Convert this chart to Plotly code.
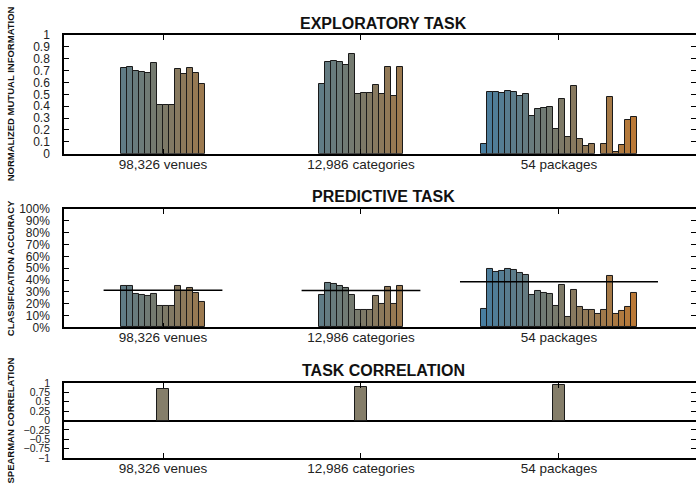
import plotly.graph_objects as go

groups = ["98,326 venues", "12,986 categories", "54 packages"]
n_slots = 26

# Normalized mutual information (exploratory task), one value per slot (0 = no bar)
nmi_venues = [0, 0, 0, 0, 0, 0, 0.72, 0.73, 0.70, 0.69, 0.68, 0.76, 0.41, 0.41, 0.41,
              0.71, 0.67, 0.72, 0.68, 0.59, 0, 0, 0, 0, 0, 0]
nmi_categories = [0, 0, 0, 0, 0, 0, 0.59, 0.77, 0.78, 0.77, 0.75, 0.84, 0.50, 0.51, 0.51,
                  0.58, 0.50, 0.73, 0.49, 0.73, 0, 0, 0, 0, 0, 0]
nmi_packages = [0.08, 0.52, 0.52, 0.515, 0.525, 0.52, 0.49, 0.50, 0.32, 0.38, 0.385, 0.39,
                0.205, 0.46, 0.14, 0.57, 0.12, 0.065, 0.08, 0, 0.085, 0.48, 0.015, 0.07,
                0.28, 0.305]

# Classification accuracy (predictive task), percent
acc_venues = [0, 0, 0, 0, 0, 0, 34.8, 34.8, 28.5, 27.4, 26.2, 28.5, 18.2, 18.2, 18.2,
              34.8, 30.5, 33.6, 29.3, 21.4, 0, 0, 0, 0, 0, 0]
acc_categories = [0, 0, 0, 0, 0, 0, 27.1, 37.6, 36.8, 35.3, 33.6, 27.6, 14.8, 14.8, 14.8,
                  26.8, 19.9, 34.5, 19.7, 35.0, 0, 0, 0, 0, 0, 0]
acc_packages = [15.4, 49.0, 47.0, 47.9, 49.0, 48.1, 45.9, 44.7, 27.4, 30.5, 28.8, 27.9,
                17.7, 36.2, 8.8, 31.3, 17.4, 15.1, 14.5, 11.4, 14.8, 43.3, 11.4, 14.2,
                17.4, 28.8]
acc_baseline = [31.3, 31.1, 38.5]
baseline_halfwidth = [0.30, 0.30, 0.50]

# Spearman correlation between tasks
spearman = [0.83, 0.89, 0.96]

nmi = [nmi_venues, nmi_categories, nmi_packages]
acc = [acc_venues, acc_categories, acc_packages]

slot_w = 6 / 198.0

def lerp(a, b, t):
    return tuple(a[i] + (b[i] - a[i]) * t for i in range(3))

c0, c1, c2 = (72, 126, 160), (120, 122, 108), (186, 121, 55)
slot_colors = []
for k in range(n_slots):
    if k <= 12:
        c = lerp(c0, c1, k / 12)
    else:
        c = lerp(c1, c2, (k - 12) / 13)
    slot_colors.append("rgb(%d,%d,%d)" % c)

FONT = "Liberation Sans, Arial, sans-serif"
fig = go.Figure()

def add_clusters(data, xa, ya):
    xs, ys, cs = [], [], []
    for g, vals in enumerate(data):
        for k, v in enumerate(vals):
            if v == 0:
                continue
            xs.append(g + (k - (n_slots - 1) / 2) * slot_w)
            ys.append(v)
            cs.append(slot_colors[k])
    fig.add_trace(go.Bar(x=xs, y=ys, width=slot_w, marker=dict(color=cs, line=dict(color="#1a1a1a", width=1)),
                         xaxis=xa, yaxis=ya, showlegend=False, hoverinfo="y"))

add_clusters(nmi, "x", "y")
add_clusters(acc, "x2", "y2")

for g, (b, hw) in enumerate(zip(acc_baseline, baseline_halfwidth)):
    fig.add_trace(go.Scatter(x=[g - hw, g + hw], y=[b, b], mode="lines",
                             line=dict(color="black", width=1.5), xaxis="x2", yaxis="y2",
                             showlegend=False, hoverinfo="skip"))

fig.add_trace(go.Bar(x=[0, 1, 2], y=spearman, width=0.064,
                     marker=dict(color="#857e6a", line=dict(color="#1a1a1a", width=1)),
                     xaxis="x3", yaxis="y3", showlegend=False))

xr = [-0.5, 2.692]
common_x = dict(range=xr, tickvals=[0, 1, 2], ticktext=groups, ticks="inside", ticklen=5,
                tickcolor="black", showline=True, linecolor="black", linewidth=1.5, mirror="ticks",
                showgrid=False, zeroline=False, tickfont=dict(family=FONT, size=13.5, color="#222"),
                ticklabelstandoff=-3, automargin=False, fixedrange=True)
common_y = dict(ticks="inside", ticklen=5, tickcolor="black", showline=True, linecolor="black",
                linewidth=1.5, mirror="ticks", showgrid=False, ticklabelstandoff=10, automargin=False,
                tickfont=dict(family=FONT, size=12, color="#222"))

d_top = [0.7194, 1.0]
d_mid = [0.3087, 0.5887]
d_bot = [0.0, 0.1773]

fig.update_layout(
    width=696, height=486,
    margin=dict(l=64, r=0, t=35, b=28),
    plot_bgcolor="white", paper_bgcolor="white",
    bargap=0,
    xaxis=dict(common_x, anchor="y"),
    xaxis2=dict(common_x, anchor="y2"),
    xaxis3=dict(common_x, anchor="y3"),
    yaxis=dict(common_y, domain=d_top, range=[0, 1], dtick=0.1, tickformat="~g", zeroline=False, anchor="x"),
    yaxis2=dict(common_y, domain=d_mid, range=[0, 100], tickvals=list(range(0, 101, 10)),
                ticktext=["%d%%" % v for v in range(0, 101, 10)], zeroline=False, anchor="x2"),
    yaxis3=dict(common_y, domain=d_bot, range=[-1, 1],
                tickvals=[-1, -0.75, -0.5, -0.25, 0, 0.25, 0.5, 0.75, 1],
                ticktext=["\u22121", "\u22120.75", "\u22120.5", "\u22120.25", "0", "0.25", "0.5", "0.75", "1"],
                zeroline=True, zerolinecolor="black", zerolinewidth=1.5, anchor="x3"),
)
fig.layout.yaxis3.tickfont.size = 10.5

titles = [("EXPLORATORY TASK", 1.028), ("PREDICTIVE TASK", 0.619), ("TASK CORRELATION", 0.208)]
for t, y in titles:
    fig.add_annotation(text="<b>%s</b>" % t, xref="paper", yref="paper", x=0.506, y=y,
                       xanchor="center", yanchor="middle", showarrow=False,
                       font=dict(family=FONT, size=16, color="#111"))

ytitles = [("NORMALIZED MUTUAL INFORMATION", sum(d_top) / 2), ("CLASSIFICATION ACCURACY", sum(d_mid) / 2),
           ("SPEARMAN CORRELATION", sum(d_bot) / 2)]
for t, y in ytitles:
    fig.add_annotation(text="<b>%s</b>" % t, xref="paper", yref="paper", x=-0.0854, y=y,
                       xanchor="center", yanchor="middle", showarrow=False, textangle=-90,
                       font=dict(family=FONT, size=9.5, color="#111"))

fig.write_html("out.html", config={"displayModeBar": False},
               post_script="document.body.style.margin='0';document.body.style.overflow='hidden';")
